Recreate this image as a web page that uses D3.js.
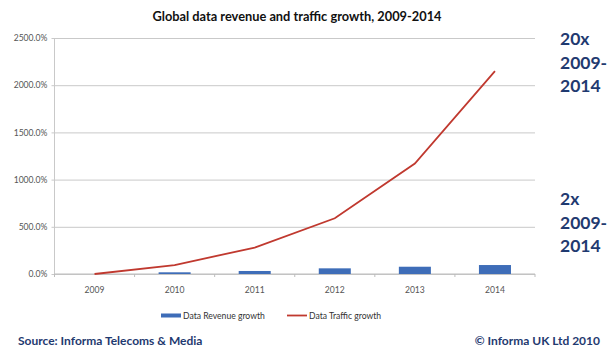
<!DOCTYPE html>
<html>
<head>
<meta charset="utf-8">
<script src="https://cdn.jsdelivr.net/npm/d3@7"></script>
<style>
  html, body { margin: 0; padding: 0; background: #fff; }
  svg { display: block; font-family: Lato, "Open Sans", sans-serif; }
</style>
</head>
<body>
<svg id="chart" width="608" height="349"></svg>
<script>
// Chart data
const years = ["2009", "2010", "2011", "2012", "2013", "2014"];
const revenueGrowth = [0, 18, 32, 60, 77, 95];        // % growth vs 2009
const trafficGrowth = [0, 95, 280, 590, 1170, 2150];  // % growth vs 2009
const yTicks = [0, 500, 1000, 1500, 2000, 2500];
const seriesNames = ["Data Revenue growth", "Data Traffic growth"];
const titleText = "Global data revenue and traffic growth, 2009-2014";
const trafficNote = ["20x", "2009-", "2014"];
const revenueNote = ["2x", "2009-", "2014"];
const sourceText = "Source: Informa Telecoms & Media";
const copyrightText = "\u00A9 Informa UK Ltd 2010";

const svg = d3.select("#chart");
const plot = { left: 54.5, right: 535, top: 38, bottom: 274 };
const barColor = "#3E6DB8";
const lineColor = "#C0392F";
const navy = "#1F3A70";

const x = d3.scaleBand().domain(years).range([plot.left, plot.right]).paddingInner(0.6).paddingOuter(0.3);
const xc = d3.scalePoint().domain(years).range([plot.left, plot.right]).padding(0.5);
const y = d3.scaleLinear().domain([0, 2500]).range([plot.bottom, plot.top]);

// Title
svg.append("text")
  .attr("x", 297).attr("y", 21)
  .attr("text-anchor", "middle")
  .attr("font-size", 12.8).attr("font-weight", "bold").attr("fill", "#111")
  .text(titleText);

// Horizontal gridlines and y axis labels
const yAxis = d3.axisLeft(y).tickValues(yTicks)
  .tickSize(-(plot.right - plot.left))
  .tickPadding(7)
  .tickFormat(d => d3.format(".1f")(d) + "%");
const gy = svg.append("g").attr("transform", `translate(${plot.left},0)`).call(yAxis);
gy.select(".domain").remove();
gy.selectAll(".tick line").attr("stroke", "#c9c9c9").attr("x1", -3);
gy.selectAll(".tick text").attr("font-size", 8.6).attr("fill", "#555").attr("font-family", "Lato, sans-serif");

// Vertical axis line
svg.append("line")
  .attr("x1", plot.left).attr("x2", plot.left)
  .attr("y1", plot.top).attr("y2", plot.bottom)
  .attr("stroke", "#c9c9c9");

// Category axis: boundary ticks
const boundaries = d3.range(years.length + 1).map(i => plot.left + i * (plot.right - plot.left) / years.length);
svg.append("line")
  .attr("x1", plot.left).attr("x2", plot.right)
  .attr("y1", plot.bottom).attr("y2", plot.bottom)
  .attr("stroke", "#bdbdbd");
svg.append("g").selectAll("line").data(boundaries).join("line")
  .attr("x1", d => d).attr("x2", d => d)
  .attr("y1", plot.bottom).attr("y2", plot.bottom + 3)
  .attr("stroke", "#bdbdbd");
svg.append("g").selectAll("text").data(years).join("text")
  .attr("x", d => xc(d)).attr("y", 293)
  .attr("text-anchor", "middle")
  .attr("font-size", 8.6).attr("fill", "#555")
  .text(d => d);

// Revenue bars
svg.append("g").selectAll("rect").data(years).join("rect")
  .attr("x", d => x(d))
  .attr("width", x.bandwidth())
  .attr("y", (d, i) => y(revenueGrowth[i]))
  .attr("height", (d, i) => y(0) - y(revenueGrowth[i]))
  .attr("fill", barColor);

// Traffic line
const line = d3.line().x((d, i) => xc(years[i])).y(d => y(d));
svg.append("path")
  .datum(trafficGrowth)
  .attr("d", line)
  .attr("fill", "none")
  .attr("stroke", lineColor)
  .attr("stroke-width", 1.8);

// Legend
const lg = svg.append("g").attr("font-size", 8.6).attr("fill", "#333");
lg.append("rect").attr("x", 161).attr("y", 313.5).attr("width", 20).attr("height", 4).attr("fill", barColor);
lg.append("text").attr("x", 183).attr("y", 318.5).attr("fill", "#333").text(seriesNames[0]);
lg.append("line").attr("x1", 287).attr("x2", 307).attr("y1", 315.5).attr("y2", 315.5)
  .attr("stroke", lineColor).attr("stroke-width", 1.8);
lg.append("text").attr("x", 309).attr("y", 318.5).attr("fill", "#333").text(seriesNames[1]);

// Side notes
function note(lines, baseY) {
  svg.append("g").selectAll("text").data(lines).join("text")
    .attr("x", 560).attr("y", (d, i) => baseY + i * 23.5)
    .attr("font-size", 17.5).attr("font-weight", "bold").attr("fill", navy)
    .text(d => d);
}
note(trafficNote, 45);
note(revenueNote, 205);

// Footer
svg.append("text").attr("x", 18).attr("y", 345)
  .attr("font-size", 12).attr("font-weight", "bold").attr("fill", navy)
  .text(sourceText);
svg.append("text").attr("x", 600).attr("y", 345).attr("text-anchor", "end")
  .attr("font-size", 12).attr("font-weight", "bold").attr("fill", navy)
  .text(copyrightText);
</script>
</body>
</html>
